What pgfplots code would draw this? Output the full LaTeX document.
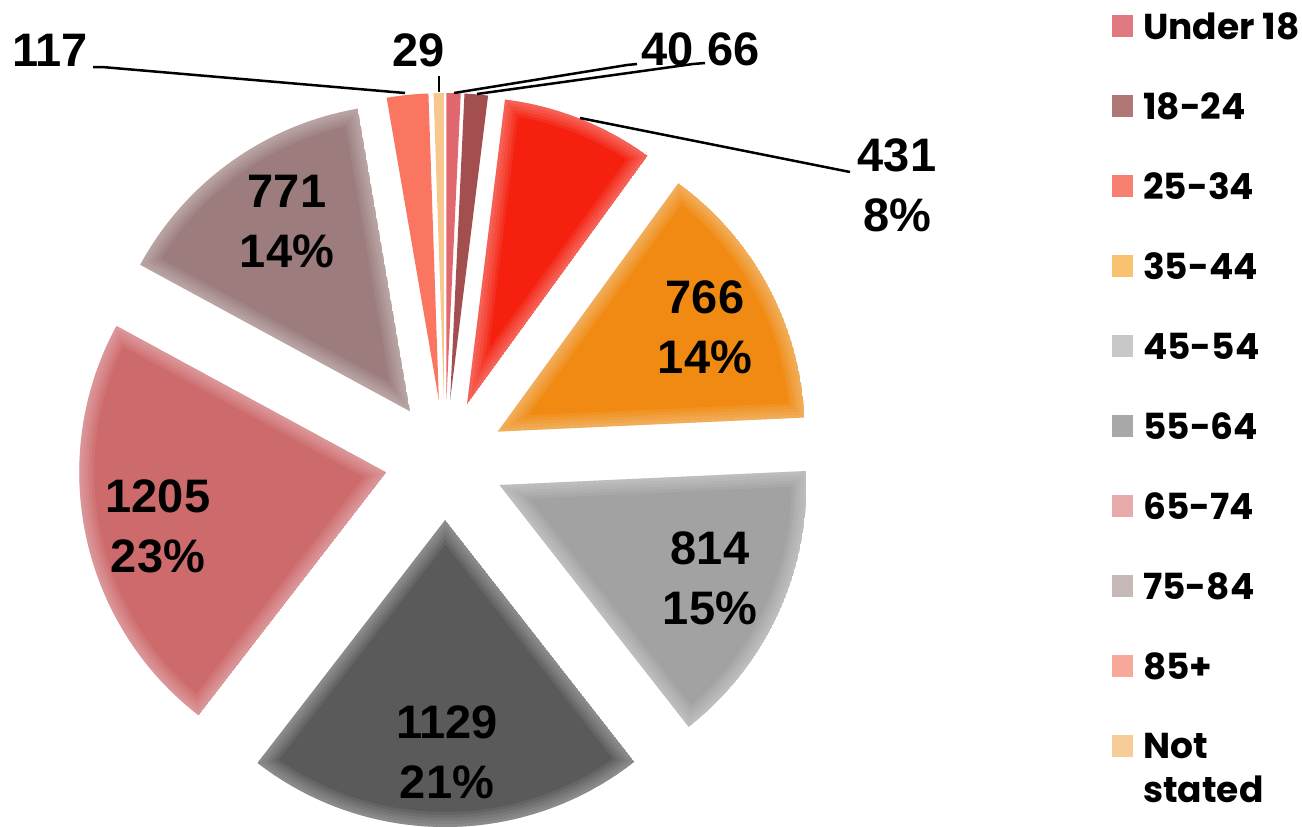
\documentclass[border=0pt]{standalone}
\usepackage{pgfplots}
\pgfplotsset{compat=1.18}
\usepackage{pgfplotstable}
\usepackage{fontspec}
\setmainfont{Poppins}
\newfontfamily\labfont{Liberation Sans}

\definecolor{s1}{HTML}{E0686E}
\definecolor{s2}{HTML}{A34F50}
\definecolor{s3}{HTML}{F5200E}
\definecolor{s4}{HTML}{F08A12}
\definecolor{s5}{HTML}{A2A2A2}
\definecolor{s6}{HTML}{5A5A5A}
\definecolor{s7}{HTML}{CD6A6C}
\definecolor{s8}{HTML}{9C7C7D}
\definecolor{s9}{HTML}{FA7660}
\definecolor{s10}{HTML}{F8C78E}
\definecolor{l1}{HTML}{E07A80}
\definecolor{l2}{HTML}{B07777}
\definecolor{l3}{HTML}{F88070}
\definecolor{l4}{HTML}{F8C270}
\definecolor{l5}{HTML}{C8C8C8}
\definecolor{l6}{HTML}{A8A8A8}
\definecolor{l7}{HTML}{E8AAAA}
\definecolor{l8}{HTML}{C8B9B9}
\definecolor{l9}{HTML}{F8A898}
\definecolor{l10}{HTML}{F8CC98}

\pgfplotstableread[col sep=comma]{
group,value
Under 18,40
18-24,66
25-34,431
35-44,766
45-54,814
55-64,1129
65-74,1205
75-84,771
85+,117
Not stated,29
}\piedata

% cumulative angles from the table
\def\total{0}
\pgfplotsforeachungrouped \i in {0,...,9}{%
  \pgfplotstablegetelem{\i}{value}\of\piedata
  \pgfmathsetmacro\total{\total+\pgfplotsretval}%
  \xdef\total{\total}%
}
\def\cum{0}
\pgfplotsforeachungrouped \i in {0,...,9}{%
  \pgfplotstablegetelem{\i}{value}\of\piedata
  \pgfmathsetmacro\sa{90-360*(\cum/\total)}%
  \pgfmathsetmacro\cum{\cum+\pgfplotsretval}%
  \xdef\cum{\cum}%
  \pgfmathsetmacro\ea{90-360*(\cum/\total)}%
  \pgfmathsetmacro\ma{(\sa+\ea)/2}%
  \expandafter\xdef\csname sa\i\endcsname{\sa}%
  \expandafter\xdef\csname ea\i\endcsname{\ea}%
  \expandafter\xdef\csname ma\i\endcsname{\ma}%
}

\def\slicepath#1{(axis cs:445,460)
    -- ++(\csname sa#1\endcsname:307pt)
    arc[start angle=\csname sa#1\endcsname, end angle=\csname ea#1\endcsname, radius=307pt]
    -- cycle}
% plain slice
\newcommand\pieslice[2]{%
  \fill[#2, shift={(\csname ma#1\endcsname:60pt)}] \slicepath{#1};}
% slice with soft light edges
\newcommand\softslice[2]{%
  \begin{scope}[shift={(\csname ma#1\endcsname:60pt)}]
    \clip \slicepath{#1};
    \fill[#2] \slicepath{#1};
    \draw[white, opacity=0.07, line width=30pt] \slicepath{#1};
    \draw[white, opacity=0.07, line width=24pt] \slicepath{#1};
    \draw[white, opacity=0.07, line width=18pt] \slicepath{#1};
    \draw[white, opacity=0.07, line width=12pt] \slicepath{#1};
    \draw[white, opacity=0.07, line width=6pt] \slicepath{#1};
  \end{scope}}

\begin{document}
\begin{tikzpicture}
\begin{axis}[
  hide axis, x=1pt, y=1pt, scale only axis,
  xmin=0, xmax=1302, ymin=0, ymax=827, y dir=reverse,
  clip=false,
]
\pieslice{0}{s1}
\pieslice{1}{s2}
\softslice{2}{s3}
\softslice{3}{s4}
\softslice{4}{s5}
\softslice{5}{s6}
\softslice{6}{s7}
\softslice{7}{s8}
\pieslice{8}{s9}
\pieslice{9}{s10}

% data labels
\tikzset{lab/.style={font=\labfont\fontsize{47}{60}\selectfont\bfseries, align=center, inner sep=0pt, text=black}}
\node[lab] at (axis cs:897,185) {431\\8\%};
\node[lab] at (axis cs:705,327) {766\\14\%};
\node[lab] at (axis cs:710,578) {814\\15\%};
\node[lab] at (axis cs:447,752) {1129\\21\%};
\node[lab] at (axis cs:158,526) {1205\\23\%};
\node[lab] at (axis cs:287,222) {771\\14\%};
\node[lab] at (axis cs:50,50) {117};
\node[lab] at (axis cs:419,50) {29};
\node[lab] at (axis cs:668,49) {40};
\node[lab] at (axis cs:734,49) {66};

% leader lines
\draw[line width=2.5pt] (axis cs:93,67) -- (axis cs:102,67) -- (axis cs:405,93);
\draw[line width=2.5pt] (axis cs:439,76) -- (axis cs:439,92);
\draw[line width=2.5pt] (axis cs:637,64) -- (axis cs:627,65) -- (axis cs:454,93);
\draw[line width=2.5pt] (axis cs:705,63) -- (axis cs:693,64) -- (axis cs:477,94);
\draw[line width=2.5pt] (axis cs:580,118) -- (axis cs:850,172);

% legend
\tikzset{leg/.style={font=\fontsize{36}{44}\selectfont\bfseries, anchor=west, inner sep=0pt, align=left}}
\foreach \n/\c/\t [count=\k from 0] in {1/l1/Under 18, 2/l2/18-24, 3/l3/25-34, 4/l4/35-44, 5/l5/45-54, 6/l6/55-64, 7/l7/65-74, 8/l8/75-84, 9/l9/85+}{
  \edef\temp{\noexpand\fill[\c] (axis cs:1112,{15+80*\k}) rectangle (axis cs:1133,{37+80*\k});
  \noexpand\node[leg] at (axis cs:1143,{26+80*\k}) {\t};}
  \temp
}
\fill[l10] (axis cs:1112,735) rectangle (axis cs:1133,757);
\node[leg, anchor=north west] at (axis cs:1143,733) {Not\\stated};
\end{axis}
\pgfresetboundingbox
\path (0,0) rectangle (1302pt,827pt);
\end{tikzpicture}
\end{document}
